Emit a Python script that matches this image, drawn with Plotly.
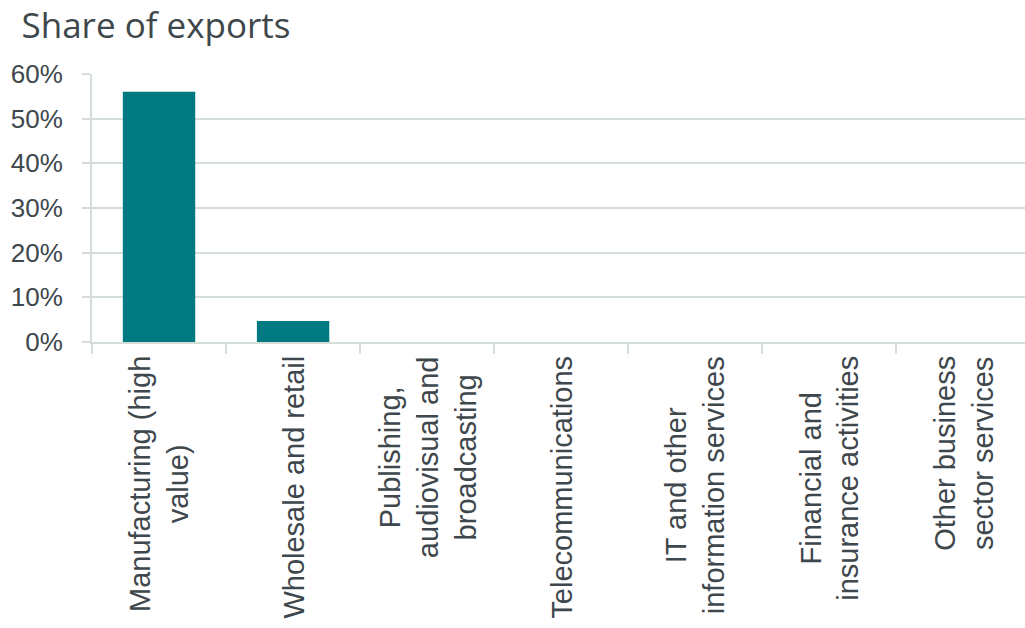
import plotly.graph_objects as go

# Sector categories (label text wrapped onto lines) and export shares
categories = [
    "Manufacturing (high<br>value)",
    "Wholesale and retail",
    "Publishing,<br>audiovisual and<br>broadcasting",
    "Telecommunications",
    "IT and other<br>information services",
    "Financial and<br>insurance activities",
    "Other business<br>sector services",
]
export_share = [0.56, 0.047, 0, 0, 0, 0, 0]
y_ticks = [0, 0.1, 0.2, 0.3, 0.4, 0.5, 0.6]
y_tick_labels = ["0%", "10%", "20%", "30%", "40%", "50%", "60%"]

TEAL = "#007A80"
GRID = "#D4DDD6"
TEXT = "#3E474C"

fig = go.Figure(
    go.Bar(
        x=categories,
        y=export_share,
        marker=dict(color=TEAL, line=dict(width=0)),
    )
)

# Rotated category labels, each line centred on the others
for cat in categories:
    fig.add_annotation(
        x=cat,
        xref="x",
        y=0,
        yref="paper",
        yanchor="top",
        xanchor="center",
        yshift=-12,
        text=cat,
        textangle=-90,
        align="center",
        showarrow=False,
        font=dict(family="Liberation Sans, Arial, sans-serif", size=29, color=TEXT),
    )

fig.update_layout(
    width=1025,
    height=628,
    margin=dict(l=92, r=0, t=74, b=286),
    paper_bgcolor="white",
    plot_bgcolor="white",
    bargap=0.46,
    showlegend=False,
    font=dict(family="Liberation Sans, Arial, sans-serif", color=TEXT),
    title=dict(
        text="Share of exports",
        x=0.021,
        xanchor="left",
        y=0.978,
        yanchor="top",
        font=dict(family="Open Sans, sans-serif", size=35, color=TEXT),
    ),
)

fig.update_xaxes(
    type="category",
    range=[-0.5, 6.46],
    tickson="boundaries",
    ticks="outside",
    ticklen=10,
    tickwidth=2,
    tickcolor=GRID,
    showticklabels=False,
    showline=True,
    linecolor=GRID,
    linewidth=2,
    showgrid=False,
)

fig.update_yaxes(
    range=[0, 0.6],
    tickvals=y_ticks,
    ticktext=y_tick_labels,
    ticks="outside",
    ticklen=8,
    tickwidth=2,
    tickcolor=GRID,
    showline=True,
    linecolor=GRID,
    linewidth=2,
    showgrid=True,
    gridcolor=GRID,
    gridwidth=2,
    zeroline=False,
    ticklabelstandoff=14,
    tickfont=dict(size=26, color=TEXT),
)

fig.write_html("out.html")
